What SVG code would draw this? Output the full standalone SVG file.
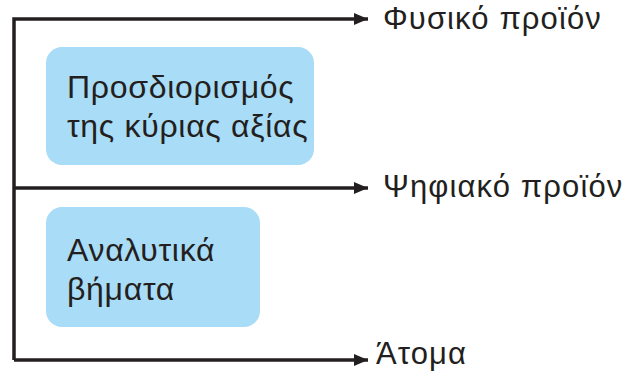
<svg xmlns="http://www.w3.org/2000/svg" width="625" height="371" viewBox="0 0 625 371">
<defs>
<marker id="ah" viewBox="0 0 14 12" refX="14" refY="6" markerWidth="14" markerHeight="12" markerUnits="userSpaceOnUse" orient="auto">
<path d="M0,0 L14,6 L0,12 Z" fill="#231f20"/>
</marker>
<style>
.box{fill:#a9dcf6;}
.t{font-family:"Liberation Sans",Arial,sans-serif;font-size:32px;letter-spacing:0.7px;fill:#231f20;}
.lbl{font-family:"Liberation Sans",Arial,sans-serif;font-size:31px;letter-spacing:1.1px;fill:#231f20;}
.c{fill:none;stroke:#231f20;stroke-width:3.5;}
</style>
</defs>
<rect width="625" height="371" fill="#ffffff"/>
<g id="connectors">
<path class="c" d="M14,360 L14,19 L352,19"/>
<path class="c" d="M352,19 L368,19" marker-end="url(#ah)"/>
<path class="c" d="M14,188 L368,188" marker-end="url(#ah)"/>
<path class="c" d="M14,360 L368,360" marker-end="url(#ah)"/>
</g>
<g id="node-value">
<rect class="box" x="46" y="47" width="268" height="118" rx="16"/>
<text class="t" x="67" y="98">Προσδιορισμός</text>
<text class="t" x="67" y="137">της κύριας αξίας</text>
</g>
<g id="node-steps">
<rect class="box" x="46" y="207" width="214" height="120" rx="16"/>
<text class="t" x="67" y="261">Αναλυτικά</text>
<text class="t" x="67" y="300">βήματα</text>
</g>
<g id="label-physical">
<text class="lbl" x="383" y="29">Φυσικό προϊόν</text>
</g>
<g id="label-digital">
<text class="lbl" x="383" y="197">Ψηφιακό προϊόν</text>
</g>
<g id="label-people">
<text class="lbl" x="376" y="364">Άτομα</text>
</g>
</svg>
